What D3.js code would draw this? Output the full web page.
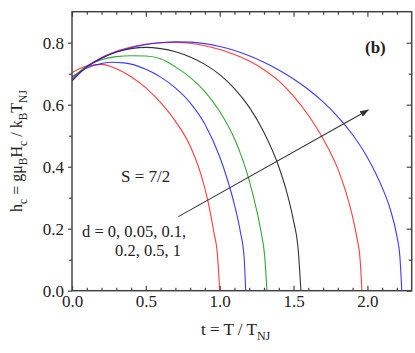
<!DOCTYPE html>
<html><head><meta charset="utf-8">
<script src="https://cdn.jsdelivr.net/npm/d3@7"></script>
<style>
body{margin:0;background:#fff}
text{font-family:"Liberation Serif","Times New Roman",serif;fill:#222}
</style>
</head><body>
<svg id="c" width="415" height="353"></svg>
<script>
// ---- data ----
const dValues = ["0", "0.05", "0.1", "0.2", "0.5", "1"];
const t_d0   = [0, 0.05, 0.1, 0.2, 0.3, 0.4, 0.5, 0.6, 0.7, 0.8, 0.87, 0.92, 0.96, 0.985, 1.0];
const h_d0   = [0.703, 0.716, 0.725, 0.730, 0.716, 0.690, 0.654, 0.607, 0.547, 0.467, 0.380, 0.290, 0.190, 0.115, 0];
const t_d005 = [0, 0.05, 0.1, 0.2, 0.27, 0.35, 0.4, 0.5, 0.6, 0.7, 0.8, 0.9, 1.0, 1.05, 1.1, 1.14, 1.165, 1.176];
const h_d005 = [0.690, 0.705, 0.718, 0.733, 0.737, 0.735, 0.731, 0.714, 0.689, 0.654, 0.606, 0.537, 0.432, 0.362, 0.277, 0.190, 0.110, 0];
const t_d01  = [0, 0.1, 0.2, 0.3, 0.4, 0.5, 0.6, 0.7, 0.8, 0.9, 1.0, 1.1, 1.15, 1.2, 1.25, 1.28, 1.305, 1.32];
const h_d01  = [0.685, 0.725, 0.745, 0.755, 0.758, 0.757, 0.748, 0.722, 0.688, 0.642, 0.578, 0.490, 0.430, 0.355, 0.260, 0.190, 0.110, 0];
const t_d02  = [0, 0.1, 0.2, 0.3, 0.4, 0.5, 0.6, 0.7, 0.8, 0.9, 1.0, 1.1, 1.2, 1.3, 1.4, 1.45, 1.5, 1.53, 1.55];
const h_d02  = [0.680, 0.722, 0.750, 0.770, 0.781, 0.785, 0.781, 0.771, 0.754, 0.730, 0.697, 0.652, 0.592, 0.510, 0.400, 0.325, 0.225, 0.140, 0];
const t_d05  = [0, 0.1, 0.2, 0.3, 0.4, 0.5, 0.6, 0.7, 0.8, 0.9, 1.0, 1.1, 1.2, 1.3, 1.4, 1.5, 1.6, 1.7, 1.8, 1.85, 1.9, 1.93, 1.95, 1.963];
const h_d05  = [0.678, 0.722, 0.752, 0.772, 0.786, 0.795, 0.800, 0.801, 0.798, 0.790, 0.778, 0.762, 0.741, 0.713, 0.677, 0.628, 0.566, 0.490, 0.393, 0.325, 0.238, 0.168, 0.105, 0];
const t_d1   = [0, 0.1, 0.2, 0.3, 0.4, 0.5, 0.6, 0.7, 0.8, 0.9, 1.0, 1.1, 1.2, 1.3, 1.4, 1.5, 1.6, 1.7, 1.8, 1.9, 2.0, 2.1, 2.15, 2.2, 2.22, 2.233];
const h_d1   = [0.676, 0.722, 0.750, 0.770, 0.784, 0.794, 0.800, 0.803, 0.802, 0.797, 0.788, 0.775, 0.758, 0.737, 0.712, 0.683, 0.649, 0.609, 0.561, 0.503, 0.430, 0.333, 0.270, 0.175, 0.110, 0];
const xTicks = [0, 0.5, 1.0, 1.5, 2.0];
const yTicks = [0, 0.2, 0.4, 0.6, 0.8];
const xMinor = [0.1,0.2,0.3,0.4,0.6,0.7,0.8,0.9,1.1,1.2,1.3,1.4,1.6,1.7,1.8,1.9,2.1,2.2];
const yMinor = [0.1,0.3,0.5,0.7];
const arrowFrom = [0.72, 0.239];
const arrowTo   = [2.006, 0.583];

// ---- drawing ----
const series = [[t_d0,h_d0],[t_d005,h_d005],[t_d01,h_d01],[t_d02,h_d02],[t_d05,h_d05],[t_d1,h_d1]];
const colors = ["#ff1a1a","#1a1aff","#0a9a0a","#111111","#ff1a1a","#1a1aff"];
const svg = d3.select("#c");
const L = 72, R = 411.7, T = 11.7, B = 290.7;
const x = d3.scaleLinear().domain([0, 2.3]).range([L, R]);
const y = d3.scaleLinear().domain([0, 0.9]).range([B, T]);
const fmt = d3.format(".1f");

function minorAxis(axis, vals, size){ return axis.tickValues(vals).tickSize(size).tickFormat(""); }
svg.append("g").attr("transform",`translate(0,${B})`).call(minorAxis(d3.axisBottom(x), xMinor, -3));
svg.append("g").attr("transform",`translate(0,${T})`).call(minorAxis(d3.axisTop(x), xMinor, -3));
svg.append("g").attr("transform",`translate(${L},0)`).call(minorAxis(d3.axisLeft(y), yMinor, 3));
svg.append("g").attr("transform",`translate(${R},0)`).call(minorAxis(d3.axisRight(y), yMinor, -3));
svg.append("g").attr("transform",`translate(0,${B})`)
  .call(d3.axisBottom(x).tickValues(xTicks).tickSize(-5).tickPadding(4).tickFormat(fmt));
svg.append("g").attr("transform",`translate(0,${T})`)
  .call(d3.axisTop(x).tickValues(xTicks).tickSize(-5).tickFormat(""));
svg.append("g").attr("transform",`translate(${L},0)`)
  .call(d3.axisLeft(y).tickValues(yTicks).tickSize(4).tickPadding(4).tickFormat(fmt));
svg.append("g").attr("transform",`translate(${R},0)`)
  .call(d3.axisRight(y).tickValues(yTicks).tickSize(-5).tickFormat(""));
svg.selectAll(".domain").remove();
svg.selectAll(".tick line").attr("stroke","#444").attr("stroke-width",1.2);
svg.selectAll(".tick text").attr("font-size",17).attr("fill","#222")
  .style("font-family",'"Liberation Serif","Times New Roman",serif');

// curves
const line = d3.line().x(d=>x(d[0])).y(d=>y(d[1])).curve(d3.curveMonotoneX);
series.forEach((s,i)=>{
  const pts = s[0].map((t,j)=>[t, s[1][j]]);
  svg.append("path").attr("d", line(pts)).attr("fill","none")
    .attr("stroke", colors[i]).attr("stroke-width",1.1).attr("opacity",0.85);
});

// frame
svg.append("rect").attr("x",L).attr("y",T).attr("width",R-L).attr("height",B-T)
  .attr("fill","none").attr("stroke","#444").attr("stroke-width",1.5);

// arrow
svg.append("defs").append("marker").attr("id","ah").attr("viewBox","0 0 10 10")
  .attr("refX",9).attr("refY",5).attr("markerWidth",9).attr("markerHeight",9)
  .attr("markerUnits","userSpaceOnUse").attr("orient","auto")
  .append("path").attr("d","M0,1.5 L10,5 L0,8.5 Z").attr("fill","#333");
svg.append("line").attr("x1",x(arrowFrom[0])).attr("y1",y(arrowFrom[1]))
  .attr("x2",x(arrowTo[0])).attr("y2",y(arrowTo[1]))
  .attr("stroke","#333").attr("stroke-width",1.1).attr("marker-end","url(#ah)");

// annotations
svg.append("text").attr("x",365).attr("y",53).attr("font-size",17).attr("font-weight","bold").text("(b)");
svg.append("text").attr("x",121).attr("y",182).attr("font-size",17).text("S = 7/2");
svg.append("text").attr("x",82).attr("y",237).attr("font-size",16.5).text("d = " + dValues.slice(0,3).join(", ") + ",");
svg.append("text").attr("x",115).attr("y",256).attr("font-size",16.5).text(dValues.slice(3).join(", "));

// x title
const xt = svg.append("text").attr("x",201).attr("y",335).attr("font-size",17);
xt.append("tspan").text("t = T / T");
xt.append("tspan").attr("font-size",12).attr("dy",5).text("NJ");

// y title
const yt = svg.append("text").attr("transform","translate(22,151) rotate(-90)")
  .attr("text-anchor","middle").attr("font-size",16);
function sub(s){ yt.append("tspan").attr("font-size",11.5).attr("dy",5).text(s); }
function main(s){ yt.append("tspan").attr("dy",-5).text(s); }
yt.append("tspan").text("h");
sub("c"); main(" = gμ"); sub("B"); main("H"); sub("c"); main(" / k"); sub("B"); main("T"); sub("NJ");
</script>
</body></html>
